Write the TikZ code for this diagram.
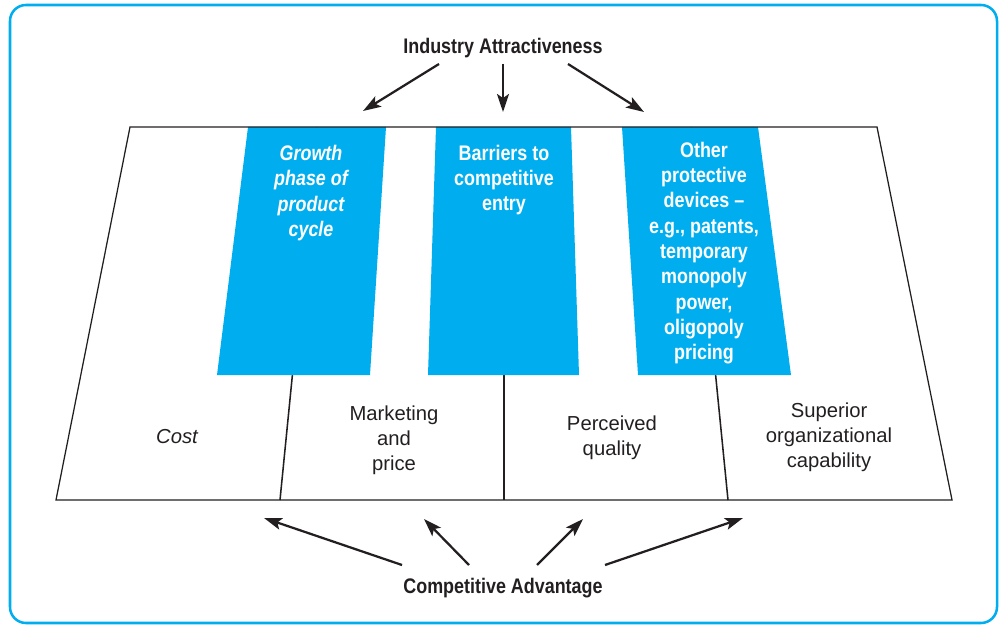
\documentclass[tikz,border=0pt]{standalone}
\usepackage{fontspec}
\setmainfont{Liberation Sans}
\newfontfamily\condfont{Liberation Sans}[FakeStretch=0.85]
\usepackage{xcolor}
\usepackage{tikz}
\usetikzlibrary{arrows.meta}
\definecolor{cyanblue}{HTML}{00AEEF}
\definecolor{inkdark}{HTML}{231F20}
\tikzset{
  frame/.style={draw=cyanblue, line width=1.8pt, rounded corners=4mm},
  panel/.style={fill=cyanblue, draw=none},
  paneltext/.style={text=white, align=center, inner sep=0pt, font=\condfont\bfseries\fontsize{15pt}{18pt}\selectfont},
  panelitalic/.style={paneltext, font=\condfont\bfseries\itshape\fontsize{15pt}{18pt}\selectfont},
  field/.style={text=inkdark, align=center, inner sep=0pt, font=\fontsize{14.4pt}{17.8pt}\selectfont},
  heading/.style={text=inkdark, inner sep=0pt, anchor=base, font=\condfont\bfseries\fontsize{15pt}{18pt}\selectfont},
  edge/.style={draw=inkdark, line width=0.9pt},
  link/.style={-{Stealth[length=4.5mm, width=3mm, inset=1mm]}, line width=1.6pt, draw=inkdark, fill=inkdark}
}

\begin{document}
\begin{tikzpicture}[x=0.25mm, y=-0.25mm]
    \useasboundingbox (0,0) rectangle (1003,625);

    % Outer frame
    \draw[frame] (10,5) rectangle (997,623);

    % Dividers (run behind the panels)
    \draw[edge, line width=1.1pt] (317,127) -- (280,500);
    \draw[edge, line width=1.1pt] (504,127) -- (504,500);
    \draw[edge, line width=1.1pt] (691,127) -- (728,500);

    % Panels
    \fill[panel] (248,127) -- (386,127) -- (370,375) -- (217,375) -- cycle;
    \fill[panel] (436,127) -- (571,127) -- (579,375) -- (428,375) -- cycle;
    \fill[panel] (622,127) -- (758,127) -- (791,375) -- (638,375) -- cycle;

    % Base trapezoid
    \draw[edge] (130,127) -- (877,127) -- (952,500) -- (56,500) -- cycle;

    % Panel texts
    \node[panelitalic] (growth)   at (311,193) {Growth\\phase of\\product\\cycle};
    \node[paneltext]   (barriers) at (504,180) {Barriers to\\competitive\\entry};
    \node[paneltext]   (other)    at (704,253) {Other\\protective\\devices –\\e.g., patents,\\temporary\\monopoly\\power,\\oligopoly\\pricing};

    % Fields
    \node[field, font=\itshape\fontsize{14.4pt}{17.8pt}\selectfont] (cost) at (177,437) {Cost};
    \node[field] (marketing) at (394,440) {Marketing\\and\\price};
    \node[field] (quality)   at (612,438) {Perceived\\quality};
    \node[field] (superior)  at (829,437) {Superior\\organizational\\capability};

    % Headings
    \node[heading] (industry)   at (503,54)  {Industry Attractiveness};
    \node[heading] (competitive) at (503,593) {Competitive Advantage};

    % Arrow ends
    \coordinate (ind-l) at (439,64);  \coordinate (ind-l-tip) at (363,111);
    \coordinate (ind-m) at (503,64);  \coordinate (ind-m-tip) at (503,112);
    \coordinate (ind-r) at (568,64);  \coordinate (ind-r-tip) at (644,112);
    \coordinate (adv-1) at (402,565); \coordinate (adv-1-tip) at (264,518);
    \coordinate (adv-2) at (469,565); \coordinate (adv-2-tip) at (424,519);
    \coordinate (adv-3) at (537,565); \coordinate (adv-3-tip) at (583,519);
    \coordinate (adv-4) at (605,565); \coordinate (adv-4-tip) at (743,518);

    % Links
    \draw[link] (ind-l) -- (ind-l-tip);
    \draw[link] (ind-m) -- (ind-m-tip);
    \draw[link] (ind-r) -- (ind-r-tip);

    \draw[link] (adv-1) -- (adv-1-tip);
    \draw[link] (adv-2) -- (adv-2-tip);
    \draw[link] (adv-3) -- (adv-3-tip);
    \draw[link] (adv-4) -- (adv-4-tip);
\end{tikzpicture}
\end{document}
